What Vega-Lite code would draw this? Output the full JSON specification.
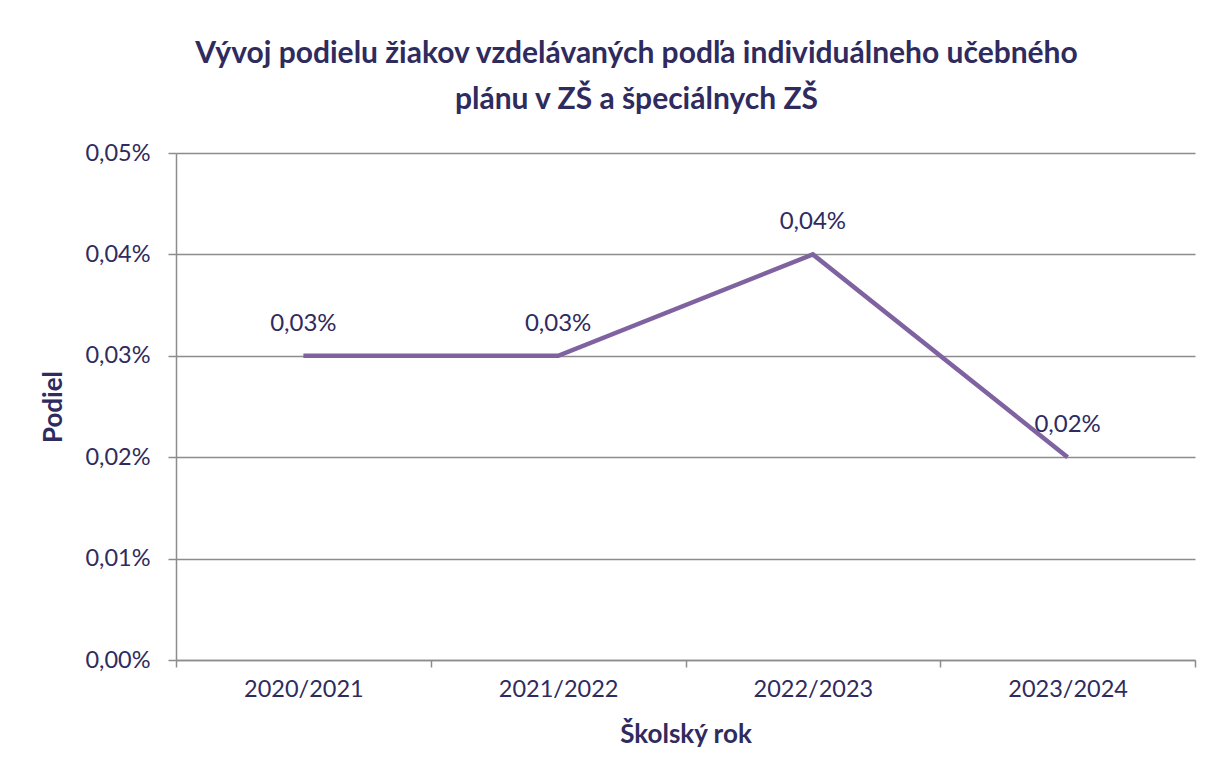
{
  "$schema": "https://vega.github.io/schema/vega-lite/v6.json",
  "width": 1019,
  "height": 507,
  "autosize": {"type": "none"},
  "padding": {"left": 176, "top": 153, "right": 15, "bottom": 111},
  "background": "white",
  "title": {
    "text": ["Vývoj podielu žiakov vzdelávaných podľa individuálneho učebného", "plánu v ZŠ a špeciálnych ZŠ"],
    "font": "Lato",
    "fontSize": 30,
    "fontWeight": "bold",
    "color": "#2f2b5e",
    "lineHeight": 46,
    "anchor": "middle",
    "frame": "group",
    "dx": -49,
    "offset": 26
  },
  "data": {
    "values": [
      {"rok": "2020/2021", "podiel": 0.0003},
      {"rok": "2021/2022", "podiel": 0.0003},
      {"rok": "2022/2023", "podiel": 0.0004},
      {"rok": "2023/2024", "podiel": 0.0002}
    ]
  },
  "encoding": {
    "x": {
      "field": "rok",
      "type": "ordinal",
      "bandPosition": 0.5,
      "scale": {"type": "band", "paddingInner": 0, "paddingOuter": 0},
      "axis": {
        "title": "Školský rok",
        "labelAngle": 0,
        "tickBand": "extent",
        "tickExtra": true,
        "tickSize": 7,
        "labelPadding": 10,
        "titlePadding": 21,
        "grid": false
      }
    },
    "y": {
      "field": "podiel",
      "type": "quantitative",
      "scale": {"domain": [0, 0.0005], "nice": false},
      "axis": {
        "title": "Podiel",
        "values": [0, 0.0001, 0.0002, 0.0003, 0.0004, 0.0005],
        "labelExpr": "replace(format(datum.value, '.2%'), '.', ',')",
        "tickSize": 8,
        "labelPadding": 18,
        "titlePadding": 18,
        "grid": true
      }
    }
  },
  "layer": [
    {
      "mark": {"type": "line", "color": "#7f63a1", "strokeWidth": 4.5}
    },
    {
      "mark": {"type": "text", "dy": -32, "font": "Lato", "fontSize": 24, "color": "#2f2b5e", "baseline": "middle"},
      "encoding": {
        "text": {"field": "label", "type": "nominal"}
      },
      "transform": [{"calculate": "replace(format(datum.podiel, '.2%'), '.', ',')", "as": "label"}]
    }
  ],
  "config": {
    "view": {"stroke": null},
    "axis": {
      "labelFont": "Lato",
      "labelFontSize": 23.5,
      "labelColor": "#2f2b5e",
      "titleFont": "Lato",
      "titleFontSize": 26,
      "titleFontWeight": "bold",
      "titleColor": "#2f2b5e",
      "domainColor": "#8c8c8c",
      "domainWidth": 1.5,
      "tickColor": "#8c8c8c",
      "tickWidth": 1.5,
      "gridColor": "#8c8c8c",
      "gridWidth": 1.5,
      "gridOpacity": 1
    }
  }
}
